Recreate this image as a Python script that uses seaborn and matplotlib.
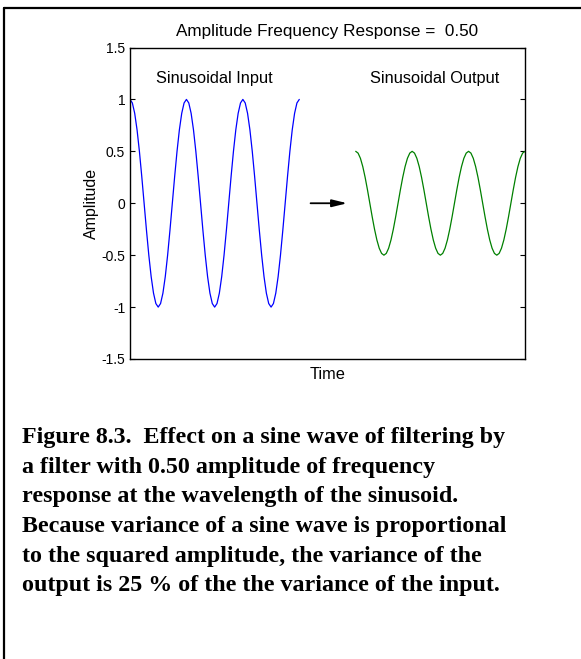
import numpy as np
import pandas as pd
import matplotlib
matplotlib.use("Agg")
import matplotlib.pyplot as plt
from matplotlib.lines import Line2D
import seaborn as sns

# ---- data ----
input_amplitude = 1.0          # amplitude of sinusoidal input
response_amplitude = 0.50      # amplitude of frequency response
input_cycles = 3               # number of periods shown for each wave
input_start = 0.0              # time (in periods) where input starts
output_start = 4.0             # time (in periods) where output starts
samples_per_cycle = 24
arrow_x = [3.2, 3.85]          # arrow from/to (time, in periods)
arrow_y = 0.0
y_ticks = [-1.5, -1, -0.5, 0, 0.5, 1, 1.5]
y_tick_labels = ["-1.5", "-1", "-0.5", "0", "0.5", "1", "1.5"]
x_limits = [0, 7]
title_text = "Amplitude Frequency Response =  0.50"
input_label = "Sinusoidal Input"
output_label = "Sinusoidal Output"
caption = ("Figure 8.3.  Effect on a sine wave of filtering by\n"
           "a filter with 0.50 amplitude of frequency\n"
           "response at the wavelength of the sinusoid.\n"
           "Because variance of a sine wave is proportional\n"
           "to the squared amplitude, the variance of the\n"
           "output is 25 % of the the variance of the input.")

n = input_cycles * samples_per_cycle + 1
phase = np.linspace(0, input_cycles, n)
df_in = pd.DataFrame({"t": input_start + phase,
                      "y": input_amplitude * np.cos(2 * np.pi * phase)})
df_out = pd.DataFrame({"t": output_start + phase,
                       "y": response_amplitude * input_amplitude * np.cos(2 * np.pi * phase)})

sns.set_style("white")
plt.rcParams["font.family"] = ["Liberation Sans", "DejaVu Sans"]
plt.rcParams["text.color"] = "black"
plt.rcParams["axes.labelcolor"] = "black"
plt.rcParams["xtick.color"] = "black"
plt.rcParams["ytick.color"] = "black"

fig = plt.figure(figsize=(5.81, 6.59), dpi=100)
ax = fig.add_axes([130 / 581, 1 - 359 / 659, 395 / 581, (359 - 47.5) / 659])

sns.lineplot(data=df_in, x="t", y="y", ax=ax, color=(0, 0, 1), lw=0.9)
sns.lineplot(data=df_out, x="t", y="y", ax=ax, color=(0, 0.5, 0), lw=0.9)

ax.annotate("", xy=(arrow_x[1], arrow_y), xytext=(arrow_x[0], arrow_y),
            arrowprops=dict(arrowstyle="-|>,head_length=0.9,head_width=0.22",
                            color="black", lw=1.3, shrinkA=0, shrinkB=0))

ax.text(1.5, 1.2, input_label, ha="center", va="center", fontsize=11.8)
ax.text(5.4, 1.2, output_label, ha="center", va="center", fontsize=11.8)

ax.set_xlim(*x_limits)
ax.set_ylim(-1.5, 1.5)
ax.set_xticks([])
ax.set_yticks(y_ticks)
ax.set_yticklabels(y_tick_labels)
ax.tick_params(axis="y", direction="in", length=3.5, width=0.8, pad=3.5,
               labelsize=10, left=True, right=True, colors="black")
for s in ax.spines.values():
    s.set_visible(True)
    s.set_color("black")
    s.set_linewidth(1.0)
ax.set_title(title_text, fontsize=12.3, pad=8.5)
ax.set_xlabel("Time", fontsize=11.8, labelpad=5.5)
ax.set_ylabel("Amplitude", fontsize=11.5, labelpad=1.5)

fig.text(22 / 581, 1 - 427 / 659, caption, ha="left", va="top",
         fontsize=17.3, fontweight="bold", family=["Liberation Serif", "DejaVu Serif"],
         linespacing=1.54, color="black")

fig.add_artist(Line2D([3.5 / 581, 1.0], [1 - 7.5 / 659, 1 - 7.5 / 659],
                      transform=fig.transFigure, color="black", lw=1.6))
fig.add_artist(Line2D([3.5 / 581, 3.5 / 581], [1 - 7.5 / 659, 0.0],
                      transform=fig.transFigure, color="black", lw=1.6))

fig.savefig("out.png", dpi=100, facecolor="white")
